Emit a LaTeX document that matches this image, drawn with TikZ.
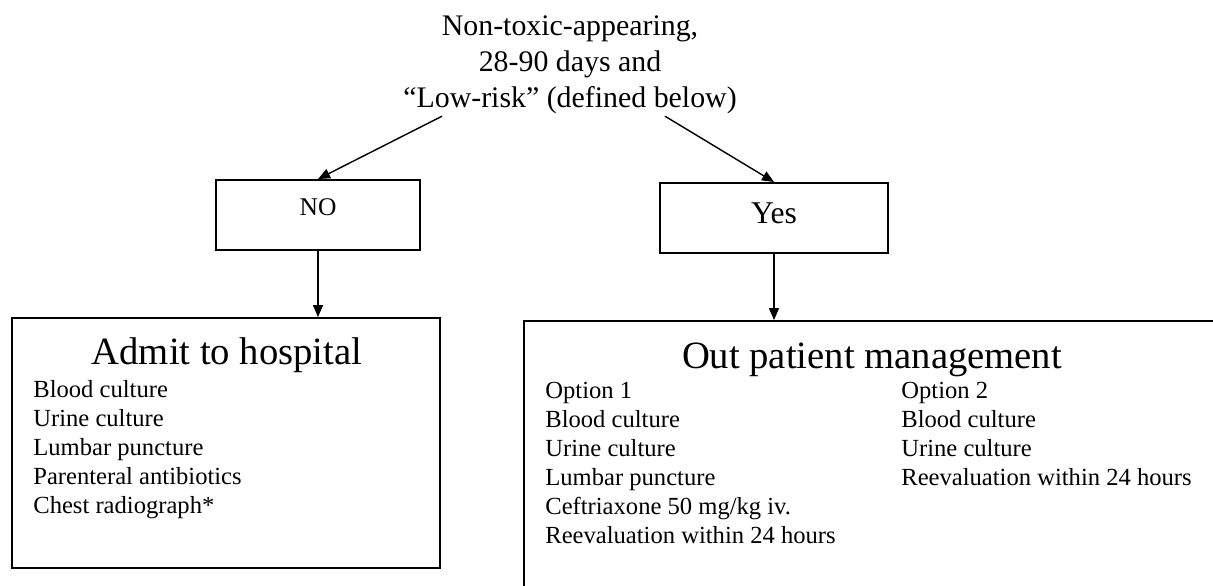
\documentclass[tikz,border=0pt]{standalone}
\usepackage{fontspec}
\setmainfont{Liberation Serif}
\usetikzlibrary{arrows.meta,calc}

\tikzset{
  box/.style={draw, line width=1.1pt, inner sep=0pt},
  item/.style={anchor=base west, inner sep=0pt, font=\fontsize{14}{16.5}\selectfont},
  head/.style={anchor=base, inner sep=0pt, font=\fontsize{22}{26}\selectfont},
  arr/.style={-{Triangle[length=2.4mm,width=2mm]}, line width=0.8pt}
}

\begin{document}
\begin{tikzpicture}[x=0.02cm, y=-0.02cm]
\useasboundingbox (0,0) rectangle (1213,585);
\clip (0,0) rectangle (1213,585);

% Question
\node[align=center, inner sep=1pt, font=\fontsize{17}{20.5}\selectfont] (title) at (570,65)
  {Non-toxic-appearing,\\28-90 days and\\``Low-risk'' (defined below)};

% Answer boxes
\node[box, minimum width=4.08cm, minimum height=1.4cm, text depth=0.32cm,
  font=\fontsize{14.5}{17}\selectfont] (no) at (318,215) {NO};
\node[box, minimum width=4.56cm, minimum height=1.4cm, text depth=0.2cm,
  font=\fontsize{18}{21}\selectfont] (yes) at (774,218) {Yes};

% Management boxes
\node[box, minimum width=8.56cm, minimum height=5cm] (admit) at (226,443) {};
\node[box, minimum width=14.32cm, minimum height=5.58cm] (out) at (882,460.5) {};

% Arrows
\draw[arr] ($(title.south)+(-128,0)$) -- (no.north);
\draw[arr] ($(title.south)+(95,0)$) -- (yes.north);
\draw[arr] (no.south) -- (no.south |- admit.north);
\draw[arr] (yes.south) -- (yes.south |- out.north);

% Admit to hospital
\node[head] (admithead) at (227,364) {Admit to hospital};
\foreach \t [count=\i] in {Blood culture, Urine culture, Lumbar puncture,
    Parenteral antibiotics, Chest radiograph*}
  \node[item] (adm\i) at (33,{368+29*\i}) {\t};

% Out patient management
\node[head] (outhead) at (872,368) {Out patient management};
\foreach \t [count=\i] in {Option 1, Blood culture, Urine culture, Lumbar puncture,
    Ceftriaxone 50 mg/kg iv., Reevaluation within 24 hours}
  \node[item] (opa\i) at (545,{369+29*\i}) {\t};
\foreach \t [count=\i] in {Option 2, Blood culture, Urine culture,
    Reevaluation within 24 hours}
  \node[item] (opb\i) at (901,{369+29*\i}) {\t};
\end{tikzpicture}
\end{document}
